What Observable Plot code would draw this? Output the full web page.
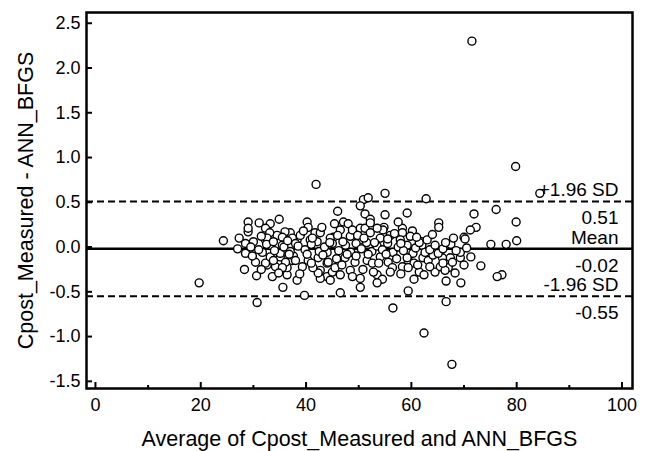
<!DOCTYPE html>
<html><head><meta charset="utf-8">
<script src="https://cdn.jsdelivr.net/npm/d3@7"></script>
<script src="https://cdn.jsdelivr.net/npm/@observablehq/plot@0.6"></script>
<style>body{margin:0;background:#fff}</style>
</head><body><div id="chart"></div>
<script>
// Axis ticks and labels
const xTicks = [0, 20, 40, 60, 80, 100];
const xMinorTicks = [10, 30, 50, 70, 90];
const yTicks = [-1.5, -1.0, -0.5, 0, 0.5, 1.0, 1.5, 2.0, 2.5];
const xLabel = "Average of Cpost_Measured and ANN_BFGS";
const yLabel = "Cpost_Measured - ANN_BFGS";

// Limits of agreement
const limitValues = [0.51, -0.02, -0.55];
const limitNames = ["+1.96 SD", "Mean", "-1.96 SD"];
const limitTexts = ["0.51", "-0.02", "-0.55"];

// Points: average (x) and difference (y)
const avgA = [71.5, 79.8, 84.4, 79.9, 80.0, 78.0, 75.1, 77.2, 76.3, 76.1,
  71.9, 72.3, 71.2, 70.0, 70.2, 71.3, 73.2, 69.4, 66.6, 68.3,
  67.0, 66.6, 62.4, 67.7, 62.8, 65.2, 65.2, 60.2, 59.2, 59.2,
  62.0, 62.0, 59.4, 56.5, 55.0, 50.9, 51.8, 50.3, 46.0, 51.2,
  55.0, 52.2, 41.9, 24.3, 19.7, 30.7, 39.7, 46.5, 50.3, 50.3,
  53.5, 54.5, 34.9, 29.0, 31.1, 33.2, 40.2, 40.4, 29.0, 27.3,
  28.5, 28.3, 30.6, 33.6, 35.6, 36.4, 38.3, 32.6, 30.4, 28.5,
  32.3, 34.5, 37.0, 38.3, 35.1, 37.4, 36.4, 39.3, 45.4, 47.1,
  48.0, 54.8, 54.6, 50.3, 51.2, 53.5, 52.2, 58.3, 58.3, 29.0,
  32.3, 33.1, 36.0, 32.6, 35.5, 37.4, 30.0, 33.2, 35.5, 38.0,
  41.7, 42.1, 44.0, 44.0, 42.7, 44.0, 45.2, 32.3, 33.2, 34.2,
  36.1, 35.1, 37.6, 31.7, 35.5, 42.7, 45.0, 42.3, 41.3, 44.6,
  46.5, 48.4, 53.5, 38.0, 40.4, 42.3, 44.2, 45.5, 47.4, 49.3,
  51.6, 52.6, 54.1, 55.6, 56.4, 58.3, 59.4, 60.3, 62.2, 60.5,
  61.5, 60.5, 62.4, 63.2, 64.5, 65.5, 67.4, 69.3, 65.9, 64.1,
  59.4, 59.2, 66.4, 65.1, 62.6, 69.3];
const diffA = [2.30, 0.90, 0.60, 0.28, 0.07, 0.03, 0.03, -0.31, -0.33, 0.42,
  0.37, 0.22, 0.19, 0.11, 0.09, -0.11, -0.21, -0.40, -0.38, -0.29,
  -0.23, -0.61, -0.96, -1.31, 0.54, 0.27, 0.22, 0.18, 0.38, 0.02,
  0.06, 0.02, -0.49, -0.68, 0.60, 0.53, 0.55, 0.46, 0.40, 0.37,
  0.36, 0.31, 0.70, 0.07, -0.40, -0.62, -0.54, -0.51, -0.45, -0.35,
  -0.31, -0.36, 0.31, 0.28, 0.27, 0.26, 0.28, 0.22, 0.17, 0.10,
  0.04, -0.25, -0.32, -0.33, -0.45, -0.31, -0.37, -0.20, -0.17, -0.07,
  0.08, 0.13, 0.16, 0.08, -0.11, -0.15, -0.23, -0.22, 0.26, 0.28,
  0.26, 0.22, 0.19, 0.21, 0.21, 0.21, 0.27, 0.21, 0.16, 0.21,
  0.21, 0.16, 0.17, 0.10, 0.11, 0.10, 0.06, 0.02, 0.02, 0.04,
  0.16, 0.06, -0.06, -0.18, -0.26, -0.33, 0.11, -0.18, -0.11, -0.22,
  -0.17, -0.07, -0.10, -0.06, -0.23, -0.35, -0.28, -0.29, -0.23, -0.37,
  -0.31, -0.26, -0.40, -0.15, -0.15, -0.12, -0.17, -0.23, -0.12, -0.17,
  -0.15, -0.18, -0.11, -0.17, -0.23, -0.22, -0.15, -0.07, -0.12, -0.18,
  -0.28, -0.36, -0.31, -0.15, -0.28, -0.22, -0.12, -0.12, -0.12, -0.09,
  -0.23, -0.12, -0.26, -0.07, -0.06, -0.06];

const avgB = [38.9, 40.8, 42.7, 44.6, 46.5, 48.4, 50.3, 52.2, 54.1, 56.0, 57.9, 59.8];
const diffB = [0.13, 0.08, 0.16, 0.10, 0.19, 0.12, 0.08, 0.16, 0.10, 0.13, 0.08, 0.12];

const avgC = [27.0, 29.5, 31.0, 32.5, 34.0, 35.8, 37.0, 38.5, 39.8, 41.0,
  42.5, 43.5, 45.0, 46.2, 47.5, 48.5, 49.5, 50.5, 51.5, 52.5,
  53.5, 54.5, 55.5, 56.5, 57.5, 58.5, 60.8, 61.5, 63.5, 64.5,
  66.0, 67.5, 68.5, 70.5];
const diffC = [-0.02, 0.00, -0.03, 0.03, -0.04, 0.00, -0.05, 0.01, -0.03, 0.03,
  -0.05, 0.00, 0.04, -0.04, 0.02, -0.06, 0.04, -0.02, 0.05, -0.05,
  0.01, -0.03, 0.04, -0.06, 0.00, -0.04, -0.01, 0.05, -0.03, 0.02,
  -0.02, 0.03, -0.04, -0.01];

const avgD = [31.5, 33.8, 36.5, 39.5, 41.2, 43.0, 44.5, 46.0, 47.0, 48.8,
  49.8, 51.0, 53.0, 55.5, 56.8, 57.5, 58.0, 61.0, 63.0, 64.0, 66.5, 68.0];
const diffD = [0.12, 0.06, 0.07, 0.18, 0.10, 0.22, 0.05, 0.13, 0.06, 0.19,
  0.13, 0.10, 0.05, 0.09, 0.15, 0.28, 0.04, 0.11, 0.08, 0.14, 0.05, 0.10];

const avgE = [29.8, 31.5, 33.8, 34.8, 36.8, 38.8, 40.2, 41.0, 43.2, 45.8,
  46.8, 47.8, 48.8, 49.5, 50.8, 51.8, 52.8, 53.8, 55.2, 56.0,
  57.2, 58.0, 61.2, 63.5, 66.0, 67.8, 70.0];
const diffE = [-0.10, -0.25, -0.15, -0.29, -0.08, -0.30, -0.08, -0.18, -0.09, -0.13,
  -0.20, -0.08, -0.33, -0.10, -0.25, -0.08, -0.28, -0.18, -0.08, -0.28,
  -0.13, -0.30, -0.20, -0.22, -0.18, -0.17, -0.20];

const avg = [...avgA, ...avgB, ...avgC, ...avgD, ...avgE];
const diff = [...diffA, ...diffB, ...diffC, ...diffD, ...diffE];
const points = avg.map((x, i) => ({x, y: diff[i]}));
const limits = limitValues.map((v, i) => ({v, name: limitNames[i], text: limitTexts[i]}));

const chart = Plot.plot({
  width: 648,
  height: 451,
  marginLeft: 86,
  marginRight: 16,
  marginTop: 12,
  marginBottom: 63,
  style: {fontFamily: "'Liberation Sans', Arial, sans-serif", fontSize: "18px", color: "black", background: "white"},
  x: {domain: [-1.7, 102]},
  y: {domain: [-1.58, 2.62]},
  marks: [
    // inward tick marks
    Plot.axisX(xTicks, {tickSize: 6, dy: -6, strokeWidth: 2, tickFormat: () => "", label: null}),
    Plot.axisX(xMinorTicks, {tickSize: 3, dy: -3, strokeWidth: 2, tickFormat: () => "", label: null}),
    Plot.axisY(yTicks, {tickSize: 6, dx: 6, strokeWidth: 2, tickFormat: () => "", label: null}),
    // tick labels and titles
    Plot.axisX(xTicks, {tickSize: 0, tickPadding: 10, tickFormat: d => String(d), fontSize: 18, label: null}),
    Plot.axisY(yTicks, {tickSize: 0, tickPadding: 6, tickFormat: d => d.toFixed(1), fontSize: 18, label: null}),
    Plot.text([xLabel], {text: d => d, frameAnchor: "bottom", lineAnchor: "bottom", dy: 57, fontSize: 21.5}),
    Plot.text([yLabel], {text: d => d, frameAnchor: "left", rotate: -90, lineAnchor: "top", textAnchor: "middle", dx: -69, fontSize: 21.5}),
    Plot.ruleY([limitValues[0], limitValues[2]], {strokeDasharray: "7,4", strokeWidth: 2}),
    Plot.ruleY([limitValues[1]], {strokeWidth: 2.5}),
    Plot.dot(points, {x: "x", y: "y", r: 4, fill: "white", stroke: "black", strokeWidth: 1.4}),
    Plot.text(limits, {y: "v", text: "name", frameAnchor: "right", textAnchor: "end", dx: -14, dy: -11, fontSize: 19}),
    Plot.text(limits, {y: "v", text: "text", frameAnchor: "right", textAnchor: "end", dx: -14, dy: 17, fontSize: 19}),
    Plot.frame({strokeWidth: 2.5})
  ]
});
document.getElementById("chart").append(chart);
</script>
</body></html>
